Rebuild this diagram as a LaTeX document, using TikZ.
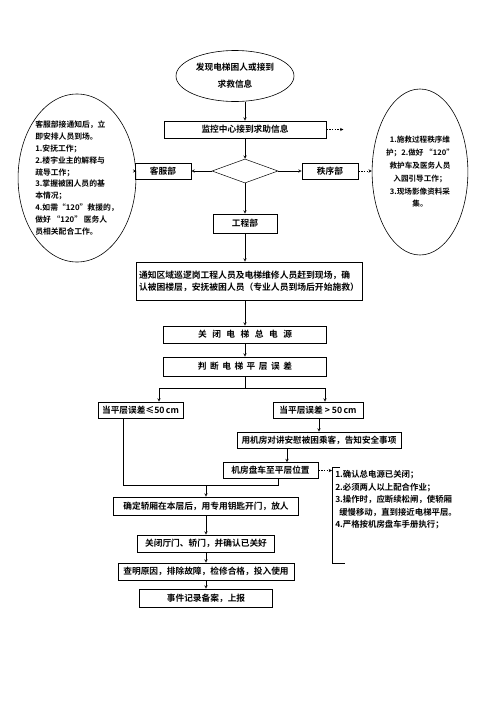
\documentclass[tikz,border=0pt]{standalone}
\usepackage{fontspec}
\setmainfont{Noto Sans CJK SC}[BoldFont={Noto Sans CJK SC Bold}]
\usetikzlibrary{shapes.geometric}
\newcommand{\gp}[1]{\hspace{#1pt}}

\begin{document}
\begin{tikzpicture}[x=1pt, y=-1pt, >=stealth, line width=0.5pt]
        \tikzstyle{every node}=[inner sep=0pt, font=\bfseries\fontsize{8.7}{11}\selectfont]
        \tikzstyle{box}=[draw, rectangle, line width=0.8pt]
        \tikzstyle{oval}=[draw, ellipse, line width=0.6pt]
        \tikzstyle{dotarrow}=[->, dash pattern=on 1.5pt off 1.2pt]

        \useasboundingbox (0,0) rectangle (496,702);

        \node[oval, minimum width=118, minimum height=51, align=center, font=\bfseries\fontsize{8.7}{17}\selectfont] (fx) at (235,76) {发现电梯困人或接到\\求救信息};

        \node[box, minimum width=162, minimum height=17] (jk) at (245,129.5) {监控中心接到求助信息};
        \node[draw, diamond, aspect=2.75, minimum width=66, minimum height=24] (dia) at (245,171) {};
        \node[box, minimum width=56, minimum height=16] (kf) at (163,171) {客服部};
        \node[box, minimum width=56, minimum height=16] (zx) at (330,171) {秩序部};
        \node[box, minimum width=64, minimum height=19] (gc) at (245,223.5) {工程部};

        \node[oval, minimum width=92, minimum height=168, align=left, font=\bfseries\fontsize{7.8}{11.9}\selectfont] (kfe) at (77,178) {客服部接通知后，立\\即安排人员到场。\\1.安抚工作；\\2.楼宇业主的解释与\\疏导工作；\\3.掌握被困人员的基\\本情况；\\4.如需“120”救援的，\\做好 “120” 医务人\\员相关配合工作。};
        \node[oval, minimum width=90, minimum height=166, align=center, font=\bfseries\fontsize{7.6}{12.8}\selectfont] (zxe) at (420,172) {1.施救过程秩序维\\护；2.做好 “120”\\救护车及医务人员\\入园引导工作；\\3.现场影像资料采\\集。};

        \node[box, minimum width=226, minimum height=38, align=left, font=\bfseries\fontsize{8.8}{12}\selectfont] (tz) at (249,281) {通知区域巡逻岗工程人员及电梯维修人员赶到现场，确\\认被困楼层，安抚被困人员（专业人员到场后开始施救）};
        \node[box, minimum width=163, minimum height=17] (gb) at (245,334.5) {关\gp{5.5}闭\gp{5.5}电\gp{5.5}梯\gp{5.5}总\gp{5.5}电\gp{5.5}源};
        \node[box, minimum width=163, minimum height=19] (pd) at (245,366.5) {判\gp{3.5}断\gp{3.5}电\gp{3.5}梯\gp{3.5}平\gp{3.5}层\gp{3.5}误\gp{3.5}差};

        \node[box, minimum width=85, minimum height=16] (lt) at (140.5,410) {当平层误差≤50\,cm};
        \node[box, minimum width=90, minimum height=16] (gt) at (318,410) {当平层误差 > 50\,cm};
        \node[box, minimum width=164, minimum height=16, font=\bfseries\fontsize{8.6}{11}\selectfont] (yj) at (319,440) {用机房对讲安慰被困乘客，告知安全事项};
        \node[box, minimum width=95, minimum height=16] (jf) at (270.5,470.5) {机房盘车至平层位置};
        \node[anchor=north west, inner sep=3pt, align=left, font=\bfseries\fontsize{8.4}{12.6}\selectfont] (nt) at (332,467) {1.确认总电源已关闭；\\2.必须两人以上配合作业；\\3.操作时，应断续松闸，使轿厢\\\hspace*{4pt}缓慢移动，直到接近电梯平层。\\4.严格按机房盘车手册执行；};

        \node[box, minimum width=185, minimum height=18] (qd) at (206,506) {确定轿厢在本层后，用专用钥匙开门，放人};
        \node[box, minimum width=137, minimum height=17] (gm) at (206,543.5) {关闭厅门、轿门，并确认已关好};
        \node[box, minimum width=176, minimum height=17] (cm) at (206,571.5) {查明原因，排除故障，检修合格，投入使用};
        \node[box, minimum width=133, minimum height=18] (sj) at (206,598) {事件记录备案，上报};

        % bracket of the note
        \draw[line width=0.8pt] ([xshift=8pt]nt.north west) -- (nt.north west) -- ++(0,96) -- ++(13,0);

        \coordinate (jkout) at ([xshift=17pt]jk.east);
        \coordinate (spl) at (159,388);
        \coordinate (spr) at (325,388);
        \coordinate (mg) at (206,485);

        \path [->] (fx.south -| jk.north) edge (jk.north);
        \path [->] (jk) edge (dia);
        \path [->] (dia) edge (kf);
        \path [->] (dia) edge (zx);
        \path [->] (dia) edge (gc);
        \path [dotarrow] (jk.east) edge (jkout);
        \path [dotarrow] (kf.west) edge (kf.west -| kfe.east);
        \path [dotarrow] (zx.east) edge (zx.east -| zxe.west);

        \path [->] (gc.south) edge (gc.south |- tz.north);
        \path [->] (tz.south -| gb.north) edge (gb.north);
        \path [->] (gb) edge (pd);

        \draw (pd.south) -- (pd.south |- spl);
        \draw (spl) -- (spr);
        \path [->] (spl) edge (spl |- lt.north);
        \path [->] (spr) edge (spr |- gt.north);
        \path [->] (yj.north |- gt.south) edge (yj.north);
        \path [->] ([xshift=-32pt]yj.south) edge ([xshift=-32pt]yj.south |- jf.north);
        \path [dotarrow] (jf.east) edge (jf.east -| nt.west);

        \draw ([xshift=-17.5pt]lt.south) |- (mg);
        \draw ([xshift=7.5pt]jf.south) |- (mg);
        \path [->] (mg) edge (qd.north);
        \path [->] (qd) edge (gm);
        \path [->] (gm) edge (cm);
        \path [->] (cm) edge (sj);
    \end{tikzpicture}
\end{document}
